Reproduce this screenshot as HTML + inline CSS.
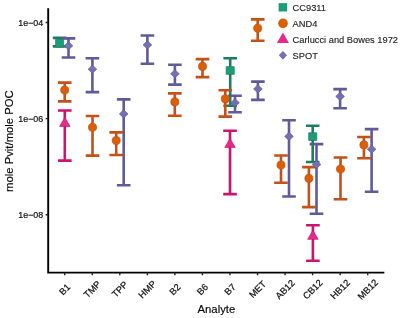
<!DOCTYPE html>
<html><head><meta charset="utf-8"><style>
html,body{margin:0;padding:0;background:#fff;}
svg{display:block;will-change:transform;filter:blur(0.35px);}
text{stroke:#111;stroke-width:0.22px;}
.lg text{stroke-width:0.12px;}
text{font-family:"Liberation Sans",sans-serif;}
</style></head><body>
<svg width="400" height="318" viewBox="0 0 400 318">
<rect width="400" height="318" fill="#fff"/>
<path d="M52.80 37.90H66.40M59.60 37.90V46.40M52.80 46.40H66.40" stroke="#1E7D60" stroke-width="2.6" fill="none"/>
<path d="M61.70 38.40H75.30M68.50 38.40V57.50M61.70 57.50H75.30" stroke="#605B98" stroke-width="2.6" fill="none"/>
<path d="M85.60 58.20H99.20M92.40 58.20V92.10M85.60 92.10H99.20" stroke="#605B98" stroke-width="2.6" fill="none"/>
<path d="M116.90 99.40H130.50M123.70 99.40V185.20M116.90 185.20H130.50" stroke="#605B98" stroke-width="2.6" fill="none"/>
<path d="M140.60 35.50H154.20M147.40 35.50V63.80M140.60 63.80H154.20" stroke="#605B98" stroke-width="2.6" fill="none"/>
<path d="M168.10 64.80H181.70M174.90 64.80V84.60M168.10 84.60H181.70" stroke="#605B98" stroke-width="2.6" fill="none"/>
<path d="M228.20 95.80H241.80M235.00 95.80V112.20M228.20 112.20H241.80" stroke="#605B98" stroke-width="2.6" fill="none"/>
<path d="M251.10 81.60H264.70M257.90 81.60V99.90M251.10 99.90H264.70" stroke="#605B98" stroke-width="2.6" fill="none"/>
<path d="M282.20 120.30H295.80M289.00 120.30V196.50M282.20 196.50H295.80" stroke="#605B98" stroke-width="2.6" fill="none"/>
<path d="M309.70 144.10H323.30M316.50 144.10V213.80M309.70 213.80H323.30" stroke="#605B98" stroke-width="2.6" fill="none"/>
<path d="M333.30 89.10H346.90M340.10 89.10V108.30M333.30 108.30H346.90" stroke="#605B98" stroke-width="2.6" fill="none"/>
<path d="M364.80 129.10H378.40M371.60 129.10V191.80M364.80 191.80H378.40" stroke="#605B98" stroke-width="2.6" fill="none"/>
<path d="M223.40 58.20H237.00M230.20 58.20V105.80M223.40 105.80H237.00" stroke="#1E7D60" stroke-width="2.6" fill="none"/>
<path d="M305.90 125.70H319.50M312.70 125.70V162.00M305.90 162.00H319.50" stroke="#1E7D60" stroke-width="2.6" fill="none"/>
<path d="M57.90 82.60H71.50M64.70 82.60V101.40M57.90 101.40H71.50" stroke="#C4501A" stroke-width="2.6" fill="none"/>
<path d="M85.70 116.00H99.30M92.50 116.00V155.60M85.70 155.60H99.30" stroke="#C4501A" stroke-width="2.6" fill="none"/>
<path d="M109.40 132.40H123.00M116.20 132.40V155.00M109.40 155.00H123.00" stroke="#C4501A" stroke-width="2.6" fill="none"/>
<path d="M168.00 93.40H181.60M174.80 93.40V115.80M168.00 115.80H181.60" stroke="#C4501A" stroke-width="2.6" fill="none"/>
<path d="M195.70 59.10H209.30M202.50 59.10V77.10M195.70 77.10H209.30" stroke="#C4501A" stroke-width="2.6" fill="none"/>
<path d="M218.50 90.30H232.10M225.30 90.30V116.60M218.50 116.60H232.10" stroke="#C4501A" stroke-width="2.6" fill="none"/>
<path d="M250.90 19.40H264.50M257.70 19.40V40.80M250.90 40.80H264.50" stroke="#C4501A" stroke-width="2.6" fill="none"/>
<path d="M274.20 155.50H287.80M281.00 155.50V182.80M274.20 182.80H287.80" stroke="#C4501A" stroke-width="2.6" fill="none"/>
<path d="M302.10 167.10H315.70M308.90 167.10V207.10M302.10 207.10H315.70" stroke="#C4501A" stroke-width="2.6" fill="none"/>
<path d="M333.70 157.50H347.30M340.50 157.50V199.30M333.70 199.30H347.30" stroke="#C4501A" stroke-width="2.6" fill="none"/>
<path d="M357.10 137.00H370.70M363.90 137.00V158.30M357.10 158.30H370.70" stroke="#C4501A" stroke-width="2.6" fill="none"/>
<path d="M58.00 110.50H71.60M64.80 110.50V160.60M58.00 160.60H71.60" stroke="#C8166E" stroke-width="2.6" fill="none"/>
<path d="M223.20 130.70H236.80M230.00 130.70V194.10M223.20 194.10H236.80" stroke="#C8166E" stroke-width="2.6" fill="none"/>
<path d="M306.10 225.20H319.70M312.90 225.20V260.80M306.10 260.80H319.70" stroke="#C8166E" stroke-width="2.6" fill="none"/>
<rect x="55.55" y="39.35" width="8.10" height="7.70" fill="#1B9E77" stroke="#1E7D60" stroke-width="0.7" stroke-linejoin="round"/>
<polygon points="68.50,41.75 72.85,45.80 68.50,49.85 64.15,45.80" fill="#7570B3" stroke="#605B98" stroke-width="0.7" stroke-linejoin="round"/>
<polygon points="92.40,65.15 96.75,69.20 92.40,73.25 88.05,69.20" fill="#7570B3" stroke="#605B98" stroke-width="0.7" stroke-linejoin="round"/>
<polygon points="123.70,109.85 128.05,113.90 123.70,117.95 119.35,113.90" fill="#7570B3" stroke="#605B98" stroke-width="0.7" stroke-linejoin="round"/>
<polygon points="147.40,40.85 151.75,44.90 147.40,48.95 143.05,44.90" fill="#7570B3" stroke="#605B98" stroke-width="0.7" stroke-linejoin="round"/>
<polygon points="174.90,69.75 179.25,73.80 174.90,77.85 170.55,73.80" fill="#7570B3" stroke="#605B98" stroke-width="0.7" stroke-linejoin="round"/>
<polygon points="235.00,98.65 239.35,102.70 235.00,106.75 230.65,102.70" fill="#7570B3" stroke="#605B98" stroke-width="0.7" stroke-linejoin="round"/>
<polygon points="257.90,84.85 262.25,88.90 257.90,92.95 253.55,88.90" fill="#7570B3" stroke="#605B98" stroke-width="0.7" stroke-linejoin="round"/>
<polygon points="289.00,132.35 293.35,136.40 289.00,140.45 284.65,136.40" fill="#7570B3" stroke="#605B98" stroke-width="0.7" stroke-linejoin="round"/>
<polygon points="316.50,160.45 320.85,164.50 316.50,168.55 312.15,164.50" fill="#7570B3" stroke="#605B98" stroke-width="0.7" stroke-linejoin="round"/>
<polygon points="340.10,92.35 344.45,96.40 340.10,100.45 335.75,96.40" fill="#7570B3" stroke="#605B98" stroke-width="0.7" stroke-linejoin="round"/>
<polygon points="371.60,145.15 375.95,149.20 371.60,153.25 367.25,149.20" fill="#7570B3" stroke="#605B98" stroke-width="0.7" stroke-linejoin="round"/>
<rect x="226.15" y="66.65" width="8.10" height="7.70" fill="#1B9E77" stroke="#1E7D60" stroke-width="0.7" stroke-linejoin="round"/>
<rect x="308.65" y="132.75" width="8.10" height="7.70" fill="#1B9E77" stroke="#1E7D60" stroke-width="0.7" stroke-linejoin="round"/>
<circle cx="64.70" cy="90.10" r="4.05" fill="#D95F02" stroke="#C4501A" stroke-width="0.7" stroke-linejoin="round"/>
<circle cx="92.50" cy="127.30" r="4.05" fill="#D95F02" stroke="#C4501A" stroke-width="0.7" stroke-linejoin="round"/>
<circle cx="116.20" cy="140.50" r="4.05" fill="#D95F02" stroke="#C4501A" stroke-width="0.7" stroke-linejoin="round"/>
<circle cx="174.80" cy="101.90" r="4.05" fill="#D95F02" stroke="#C4501A" stroke-width="0.7" stroke-linejoin="round"/>
<circle cx="202.50" cy="66.40" r="4.05" fill="#D95F02" stroke="#C4501A" stroke-width="0.7" stroke-linejoin="round"/>
<circle cx="225.30" cy="98.90" r="4.05" fill="#D95F02" stroke="#C4501A" stroke-width="0.7" stroke-linejoin="round"/>
<circle cx="257.70" cy="28.20" r="4.05" fill="#D95F02" stroke="#C4501A" stroke-width="0.7" stroke-linejoin="round"/>
<circle cx="281.00" cy="165.00" r="4.05" fill="#D95F02" stroke="#C4501A" stroke-width="0.7" stroke-linejoin="round"/>
<circle cx="308.90" cy="178.40" r="4.05" fill="#D95F02" stroke="#C4501A" stroke-width="0.7" stroke-linejoin="round"/>
<circle cx="340.50" cy="169.10" r="4.05" fill="#D95F02" stroke="#C4501A" stroke-width="0.7" stroke-linejoin="round"/>
<circle cx="363.90" cy="144.90" r="4.05" fill="#D95F02" stroke="#C4501A" stroke-width="0.7" stroke-linejoin="round"/>
<polygon points="64.80,117.45 70.05,126.45 59.55,126.45" fill="#E7298A" stroke="#C8166E" stroke-width="0.7" stroke-linejoin="round"/>
<polygon points="230.00,138.45 235.25,147.45 224.75,147.45" fill="#E7298A" stroke="#C8166E" stroke-width="0.7" stroke-linejoin="round"/>
<polygon points="312.90,230.35 318.15,239.35 307.65,239.35" fill="#E7298A" stroke="#C8166E" stroke-width="0.7" stroke-linejoin="round"/>
<path d="M48.2 9.1V272.65H383.4" stroke="#000" stroke-width="1.9" fill="none" stroke-linejoin="miter" stroke-linecap="square"/>
<path d="M64.70 272.5V275.2 M92.25 272.5V275.2 M119.79 272.5V275.2 M147.34 272.5V275.2 M174.88 272.5V275.2 M202.43 272.5V275.2 M229.97 272.5V275.2 M257.52 272.5V275.2 M285.06 272.5V275.2 M312.61 272.5V275.2 M340.15 272.5V275.2 M367.70 272.5V275.2 M45.6 22.50H48.2 M45.6 118.60H48.2 M45.6 214.70H48.2" stroke="#222" stroke-width="1.4" fill="none"/>
<g class="t" font-size="9.3" fill="#111">
<text transform="translate(64.70,289.3) rotate(-45)" text-anchor="middle" dy="0.35em">B1</text>
<text transform="translate(92.25,289.3) rotate(-45)" text-anchor="middle" dy="0.35em">TMP</text>
<text transform="translate(119.79,289.3) rotate(-45)" text-anchor="middle" dy="0.35em">TPP</text>
<text transform="translate(147.34,289.3) rotate(-45)" text-anchor="middle" dy="0.35em">HMP</text>
<text transform="translate(174.88,289.3) rotate(-45)" text-anchor="middle" dy="0.35em">B2</text>
<text transform="translate(202.43,289.3) rotate(-45)" text-anchor="middle" dy="0.35em">B6</text>
<text transform="translate(229.97,289.3) rotate(-45)" text-anchor="middle" dy="0.35em">B7</text>
<text transform="translate(257.52,289.3) rotate(-45)" text-anchor="middle" dy="0.35em">MET</text>
<text transform="translate(285.06,289.3) rotate(-45)" text-anchor="middle" dy="0.35em">AB12</text>
<text transform="translate(312.61,289.3) rotate(-45)" text-anchor="middle" dy="0.35em">CB12</text>
<text transform="translate(340.15,289.3) rotate(-45)" text-anchor="middle" dy="0.35em">HB12</text>
<text transform="translate(367.70,289.3) rotate(-45)" text-anchor="middle" dy="0.35em">MB12</text>
<text x="43.2" y="22.50" text-anchor="end" dy="0.35em" font-size="8.9">1e−04</text>
<text x="43.2" y="118.60" text-anchor="end" dy="0.35em" font-size="8.9">1e−06</text>
<text x="43.2" y="214.70" text-anchor="end" dy="0.35em" font-size="8.9">1e−08</text>
</g>
<g class="t lg" font-size="9.3" fill="#1a1a1a">
<rect x="278.6" y="3.1" width="8.4" height="8.4" fill="#1B9E77"/>
<circle cx="283.00" cy="23.30" r="4.84" fill="#D95F02"/>
<polygon points="282.90,32.52 288.95,43.00 276.85,43.00" fill="#E7298A"/>
<polygon points="282.9,50.9 287.0,55.3 282.9,59.7 278.8,55.3" fill="#7570B3"/>
<text x="292.6" y="7.60" dy="0.35em">CC9311</text>
<text x="292.6" y="23.60" dy="0.35em">AND4</text>
<text x="292.6" y="39.60" dy="0.35em">Carlucci and Bowes 1972</text>
<text x="292.6" y="55.60" dy="0.35em">SPOT</text>
</g>
<text class="t" x="216.4" y="312.6" font-size="11.3" text-anchor="middle" fill="#000" style="stroke-width:0.15px">Analyte</text>
<text class="t" transform="translate(12.6,141.1) rotate(-90)" font-size="11.3" text-anchor="middle" fill="#000" style="stroke-width:0.15px">mole Pvit/mole POC</text>
</svg>
</body></html>
